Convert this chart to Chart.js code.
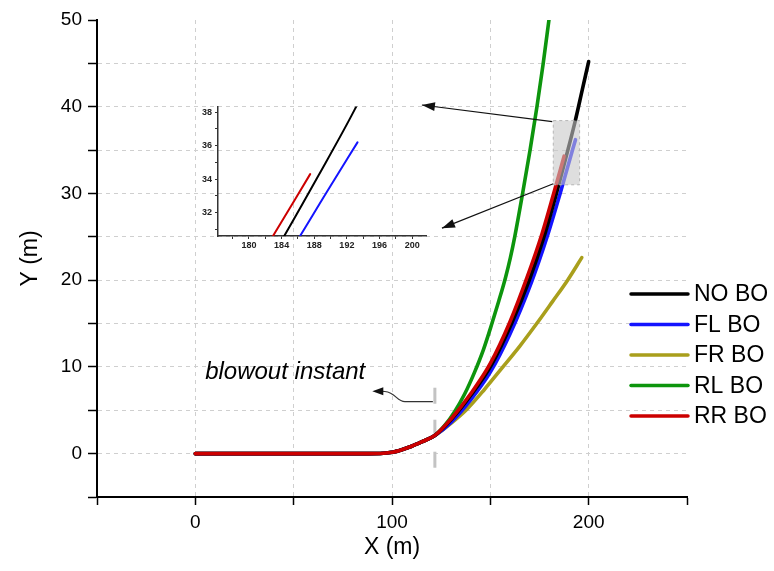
<!DOCTYPE html>
<html>
<head>
<meta charset="utf-8">
<title>Vehicle trajectories after tyre blowout</title>
<script src="https://cdn.jsdelivr.net/npm/chart.js@4.4.1/dist/chart.umd.min.js"></script>
<style>
  html, body { margin: 0; padding: 0; background: #fff; }
  #wrap { position: relative; width: 774px; height: 571px; }
  #main { position: absolute; left: 0; top: 0; }
  #inset { position: absolute; left: 190px; top: 98px; }
</style>
</head>
<body>
<div id="wrap">
  <canvas id="main" width="774" height="571"></canvas>
  <canvas id="inset" width="242" height="156"></canvas>
</div>
<script>
//Trajetoria comum ate o instante do estouro
const baseX = [0, 40, 80, 94, 100, 105, 110, 115, 121.8]
const baseY = [0, 0, 0, 0.02, 0.15, 0.45, 0.85, 1.35, 2.1]

//Depois do estouro, cada caso
const noBoX = [130, 140, 150.5, 160.8, 169.8, 177.3, 183.6, 188.5, 193, 196.8, 200]
const noBoY = [3.9, 6.7, 10.2, 15, 20, 25, 30, 34.2, 38.2, 42, 45.2]

const flBoX = [130, 140, 150, 160, 170.8, 178.6, 185.5, 189.5, 193.3]
const flBoY = [3.6, 6.2, 9.4, 13.8, 19.7, 24.8, 30, 33.2, 36.2]

const frBoX = [130, 138, 147, 156.4, 165, 173.6, 181.5, 189.3, 196.5]
const frBoY = [3.5, 5.1, 7.4, 10, 12.4, 15, 17.5, 20, 22.6]

const rlBoX = [127, 132, 137, 142, 146.5, 150.8, 154.3, 157.6, 160.2, 162.4, 166.4, 170.2, 173.7, 176.9, 179.8]
const rlBoY = [3.3, 4.9, 6.9, 9.4, 12, 15, 17.6, 20.2, 22.6, 25, 30, 35, 40, 45, 50]

const rrBoX = [130, 140, 150, 160, 168.8, 176.2, 182.2, 187.5]
const rrBoY = [4.0, 6.9, 10.4, 15.2, 20.4, 25.3, 30, 34.3]

const seriesNames = ['NO BO', 'FL BO', 'FR BO', 'RL BO', 'RR BO']
const seriesColors = ['#000000', '#1414ff', '#a99f1c', '#0d950d', '#cc0000']

//Rotulos dos eixos
const xTickLabels = [0, 100, 200]
const yTickLabels = [0, 10, 20, 30, 40, 50]
const insetXLabels = [180, 184, 188, 192, 196, 200]
const insetYLabels = [32, 34, 36, 38]

//Janela ampliada e anotacoes (em unidades dos eixos)
const zoomBox = { x0: 182, x1: 195.4, y0: 31, y1: 38.4 }
const arrowTips = [{ x: 115.2, y: 40.2 }, { x: 125.4, y: 26 }]
const blowoutX = 121.8

const FONT = '"Liberation Sans", Arial, sans-serif'

const toPoints = (xs, ys) => xs.map((x, i) => ({ x: x, y: ys[i] }))
const series = [
    [noBoX, noBoY], [flBoX, flBoY], [frBoX, frBoY], [rlBoX, rlBoY], [rrBoX, rrBoY]
].map(([xs, ys]) => toPoints(baseX.concat(xs), baseY.concat(ys)))

const makeDatasets = (width) => series.map((pts, i) => ({
    label: seriesNames[i],
    data: pts,
    borderColor: seriesColors[i],
    backgroundColor: seriesColors[i],
    borderWidth: width,
    borderCapStyle: 'round',
    pointRadius: 0,
    cubicInterpolationMode: 'monotone',
    order: i === 4 ? 0 : 1
}))

function arrowHead(ctx, fromX, fromY, toX, toY, len, half) {
    const a = Math.atan2(toY - fromY, toX - fromX)
    ctx.beginPath()
    ctx.moveTo(toX, toY)
    ctx.lineTo(toX - len * Math.cos(a) + half * Math.sin(a), toY - len * Math.sin(a) - half * Math.cos(a))
    ctx.lineTo(toX - len * Math.cos(a) - half * Math.sin(a), toY - len * Math.sin(a) + half * Math.cos(a))
    ctx.closePath()
    ctx.fill()
}

//Marcador do estouro, seta curva e texto
const blowoutNote = {
    id: 'blowoutNote',
    beforeDatasetsDraw(chart) {
        const { ctx, scales: { x, y } } = chart
        const bx = x.getPixelForValue(blowoutX)
        ctx.save()
        ctx.strokeStyle = '#c3c3c3'
        ctx.lineWidth = 3
        ctx.setLineDash([16, 16])
        ctx.beginPath()
        ctx.moveTo(bx, y.getPixelForValue(7.6))
        ctx.lineTo(bx, y.getPixelForValue(-1.8))
        ctx.stroke()
        ctx.setLineDash([])

        const sx = bx - 2, sy = y.getPixelForValue(6.0)
        const tx = x.getPixelForValue(90), ty = y.getPixelForValue(7.2)
        ctx.strokeStyle = '#333'
        ctx.fillStyle = '#111'
        ctx.lineWidth = 1.2
        ctx.beginPath()
        ctx.moveTo(sx, sy)
        ctx.lineTo(sx - 28, sy)
        ctx.bezierCurveTo(sx - 36, sy, sx - 37, ty + 1.5, sx - 48, ty + 0.3)
        ctx.lineTo(tx + 8, ty)
        ctx.stroke()
        arrowHead(ctx, tx + 20, ty, tx, ty, 11, 4)

        ctx.fillStyle = '#000'
        ctx.font = 'italic 24px ' + FONT
        ctx.textBaseline = 'middle'
        ctx.fillText('blowout instant', x.getPixelForValue(5), y.getPixelForValue(9.4))
        ctx.restore()
    },
    afterDatasetsDraw(chart) {
        const { ctx, scales: { x, y } } = chart
        const left = x.getPixelForValue(zoomBox.x0), right = x.getPixelForValue(zoomBox.x1)
        const top = y.getPixelForValue(zoomBox.y1), bottom = y.getPixelForValue(zoomBox.y0)
        ctx.save()
        ctx.fillStyle = 'rgba(200, 200, 200, 0.6)'
        ctx.fillRect(left, top, right - left, bottom - top)
        ctx.strokeStyle = '#b5b5b5'
        ctx.lineWidth = 1
        ctx.setLineDash([3, 3])
        ctx.strokeRect(left, top, right - left, bottom - top)
        ctx.setLineDash([])

        ctx.strokeStyle = '#111'
        ctx.fillStyle = '#111'
        ctx.lineWidth = 1.2
        const starts = [[left - 1, top + 1], [left, bottom - 1]]
        arrowTips.forEach((tip, i) => {
            const px = x.getPixelForValue(tip.x), py = y.getPixelForValue(tip.y)
            ctx.beginPath()
            ctx.moveTo(starts[i][0], starts[i][1])
            ctx.lineTo(px, py)
            ctx.stroke()
            arrowHead(ctx, starts[i][0], starts[i][1], px, py, 13, 4.5)
        })
        ctx.restore()
    }
}

//Legenda desenhada a direita
const legendLines = {
    id: 'legendLines',
    afterDraw(chart) {
        const ctx = chart.ctx
        chart.data.datasets.forEach((ds, i) => {
            const y = 294 + i * 30.5
            ctx.save()
            ctx.strokeStyle = ds.borderColor
            ctx.lineWidth = 3.5
            ctx.lineCap = 'round'
            ctx.beginPath()
            ctx.moveTo(631, y)
            ctx.lineTo(688, y)
            ctx.stroke()
            ctx.fillStyle = '#000'
            ctx.font = '23px ' + FONT
            ctx.textBaseline = 'middle'
            ctx.fillText(ds.label, 694, y + 1)
            ctx.restore()
        })
    }
}

//Grafico principal
let ctxMain = document.getElementById('main')
let mainChart = new Chart(ctxMain, {
    type: 'line',
    data: { datasets: makeDatasets(3.6) },
    options: {
        responsive: false,
        animation: false,
        devicePixelRatio: 1,
        layout: { padding: { top: 20, right: 87, left: 0, bottom: 0 } },
        plugins: { legend: { display: false }, tooltip: { enabled: false } },
        scales: {
            x: {
                type: 'linear',
                min: -50,
                max: 250,
                afterFit: (s) => { s.height = 74 },
                ticks: {
                    stepSize: 50,
                    maxRotation: 0,
                    autoSkip: false,
                    padding: 6,
                    color: '#000',
                    font: { family: FONT, size: 19 },
                    callback: (v) => xTickLabels.includes(v) ? String(v) : ''
                },
                grid: {
                    color: (c) => c.tick && c.tick.value === 250 ? 'rgba(0,0,0,0)' : '#cfcfcf',
                    lineWidth: 1,
                    tickLength: 8,
                    tickColor: '#000',
                    tickWidth: 1.5
                },
                border: { display: true, color: '#000', width: 2, dash: [4, 4] },
                title: {
                    display: true,
                    text: 'X (m)',
                    color: '#000',
                    font: { family: FONT, size: 23 },
                    padding: { top: 0, bottom: 10 }
                }
            },
            y: {
                type: 'linear',
                min: -5,
                max: 50,
                afterFit: (s) => { s.width = 97 },
                ticks: {
                    stepSize: 5,
                    autoSkip: false,
                    padding: 6,
                    color: '#000',
                    font: { family: FONT, size: 19 },
                    callback: (v) => yTickLabels.includes(v) ? String(v) : ''
                },
                grid: {
                    color: (c) => c.tick && c.tick.value === 50 ? 'rgba(0,0,0,0)' : '#cfcfcf',
                    lineWidth: 1,
                    tickLength: 9,
                    tickColor: '#000',
                    tickWidth: 1.5
                },
                border: { display: true, color: '#000', width: 2, dash: [4, 4] },
                title: {
                    display: true,
                    text: 'Y (m)',
                    color: '#000',
                    font: { family: FONT, size: 23 },
                    padding: { top: 17, bottom: 0 }
                }
            }
        }
    },
    plugins: [blowoutNote, legendLines]
})

//Detalhe ampliado
let ctxInset = document.getElementById('inset')
let insetChart = new Chart(ctxInset, {
    type: 'line',
    data: { datasets: makeDatasets(2) },
    options: {
        responsive: false,
        animation: false,
        devicePixelRatio: 1,
        layout: { padding: { top: 6, right: 6, left: 0, bottom: 0 } },
        plugins: { legend: { display: false }, tooltip: { enabled: false } },
        scales: {
            x: {
                type: 'linear',
                min: 176.2,
                max: 201.7,
                afterFit: (s) => { s.height = 18 },
                ticks: {
                    stepSize: 2,
                    includeBounds: false,
                    autoSkip: false,
                    maxRotation: 0,
                    padding: 1,
                    color: '#222',
                    font: { family: FONT, size: 9, weight: 'bold' },
                    callback: (v) => insetXLabels.includes(v) ? String(v) : ''
                },
                grid: { drawOnChartArea: false, tickLength: 3, tickColor: '#333', tickWidth: 1 },
                border: { display: true, color: '#333', width: 1.5 }
            },
            y: {
                type: 'linear',
                min: 30.6,
                max: 38.35,
                afterFit: (s) => { s.width = 28 },
                ticks: {
                    stepSize: 1,
                    includeBounds: false,
                    autoSkip: false,
                    padding: 3,
                    color: '#222',
                    font: { family: FONT, size: 9, weight: 'bold' },
                    callback: (v) => insetYLabels.includes(v) ? String(v) : ''
                },
                grid: { drawOnChartArea: false, tickLength: 3, tickColor: '#333', tickWidth: 1 },
                border: { display: true, color: '#333', width: 1.5 }
            }
        }
    }
})
</script>
</body>
</html>
